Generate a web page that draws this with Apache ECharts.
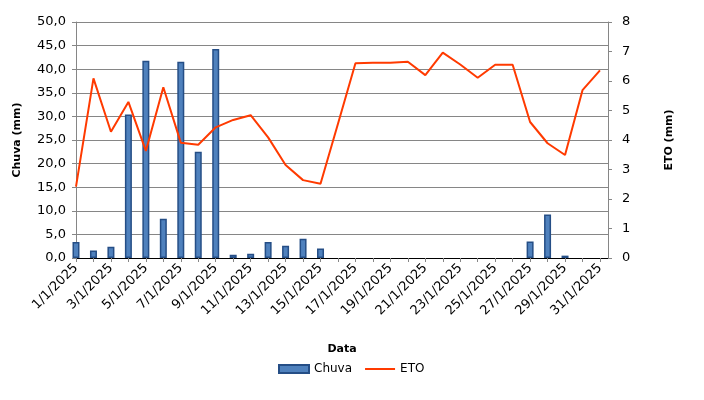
<!DOCTYPE html>
<html>
<head>
<meta charset="utf-8">
<script src="https://cdn.jsdelivr.net/npm/echarts@6/dist/echarts.min.js"></script>
<style>html,body{margin:0;padding:0;background:#fff}#c{width:704px;height:400px}</style>
</head>
<body>
<div id="c"></div>
<script>
var dates = ['1/1/2025','2/1/2025','3/1/2025','4/1/2025','5/1/2025','6/1/2025','7/1/2025','8/1/2025','9/1/2025','10/1/2025','11/1/2025','12/1/2025','13/1/2025','14/1/2025','15/1/2025','16/1/2025','17/1/2025','18/1/2025','19/1/2025','20/1/2025','21/1/2025','22/1/2025','23/1/2025','24/1/2025','25/1/2025','26/1/2025','27/1/2025','28/1/2025','29/1/2025','30/1/2025','31/1/2025'];
var chuva = [3.4,1.6,2.4,30.4,41.8,8.3,41.6,22.5,44.3,0.7,0.9,3.4,2.6,4.1,2.0,0,0,0,0,0,0,0,0,0,0,0,3.5,9.2,0.5,0,0];
var eto = [2.42,6.09,4.28,5.29,3.63,5.79,3.91,3.84,4.43,4.68,4.84,4.09,3.15,2.64,2.52,4.55,6.6,6.62,6.62,6.65,6.2,6.96,6.56,6.11,6.55,6.55,4.61,3.89,3.49,5.69,6.36];
var leftTicks = [0,5,10,15,20,25,30,35,40,45,50];
var rightTicks = [0,1,2,3,4,5,6,7,8];

var font = 'DejaVu Sans';
var chart = echarts.init(document.getElementById('c'));
var barData = chuva.map(function(v,i){
  return v === 0 ? {value: [i+1, v], itemStyle: {borderWidth: 0}} : [i+1, v];
});
var lineData = eto.map(function(v,i){return [i+1, v];});
chart.setOption({
  animation: false,
  textStyle: {fontFamily: font},
  grid: {left: 76, right: 96, top: 22, bottom: 142},
  legend: {
    bottom: 20, left: 273, itemWidth: 30, itemHeight: 8, itemGap: 12,
    textStyle: {fontFamily: font, fontSize: 12, color: '#000'},
    data: [{name: 'Chuva', icon: 'rect'}, {name: 'ETO', itemStyle: {opacity: 0}}]
  },
  xAxis: [{
    type: 'value', min: 1, max: 31.46, interval: 1,
    name: 'Data', nameLocation: 'middle', nameGap: 86,
    nameTextStyle: {fontFamily: font, fontSize: 11, fontWeight: 'bold', color: '#000'},
    axisLine: {show: true, lineStyle: {color: '#868686', width: 1}},
    axisTick: {show: true, length: 4, lineStyle: {color: '#868686'}},
    splitLine: {show: false},
    axisLabel: {
      rotate: 45, fontSize: 13, color: '#000', fontFamily: font, margin: 8,
      showMaxLabel: false,
      formatter: function(v){ var i = Math.round(v) - 1; if (Math.abs(v - Math.round(v)) > 1e-6) return ''; return (i % 2 === 0 && dates[i]) ? dates[i] : ''; }
    }
  }, {
    type: 'value', min: 1, max: 31.46, position: 'top',
    axisLine: {show: true, lineStyle: {color: '#000', width: 1}},
    axisTick: {show: false}, axisLabel: {show: false}, splitLine: {show: false}
  }],
  yAxis: [{
    type: 'value', min: leftTicks[0], max: leftTicks[leftTicks.length-1], interval: 5,
    name: 'Chuva (mm)', nameLocation: 'middle', nameGap: 53, nameRotate: 90,
    nameTextStyle: {fontFamily: font, fontSize: 11, fontWeight: 'bold', color: '#000'},
    axisLine: {show: true, lineStyle: {color: '#868686'}},
    axisTick: {show: true, length: 4, lineStyle: {color: '#868686'}},
    splitLine: {show: true, lineStyle: {color: '#868686', width: 1}},
    axisLabel: {fontSize: 13, color: '#000', fontFamily: font, margin: 10,
      formatter: function(v){ return v.toFixed(1).replace('.', ','); }}
  }, {
    type: 'value', min: rightTicks[0], max: rightTicks[rightTicks.length-1], interval: 1,
    name: 'ETO (mm)', nameLocation: 'middle', nameGap: 56, nameRotate: 90,
    nameTextStyle: {fontFamily: font, fontSize: 11, fontWeight: 'bold', color: '#000'},
    axisLine: {show: true, lineStyle: {color: '#868686'}},
    axisTick: {show: true, length: 4, lineStyle: {color: '#868686'}},
    splitLine: {show: false},
    axisLabel: {fontSize: 13, color: '#000', fontFamily: font, margin: 14}
  }],
  series: [{
    name: 'Chuva', type: 'bar', xAxisIndex: 0, yAxisIndex: 0, barWidth: 7,
    data: barData,
    itemStyle: {color: '#4F81BD', borderColor: '#254E86', borderWidth: 1.5}
  }, {
    name: 'ETO', type: 'line', xAxisIndex: 0, yAxisIndex: 1, symbol: 'none',
    data: lineData,
    lineStyle: {color: '#FF3A00', width: 2}, itemStyle: {color: '#FF3A00'}
  }]
});
</script>
</body>
</html>
